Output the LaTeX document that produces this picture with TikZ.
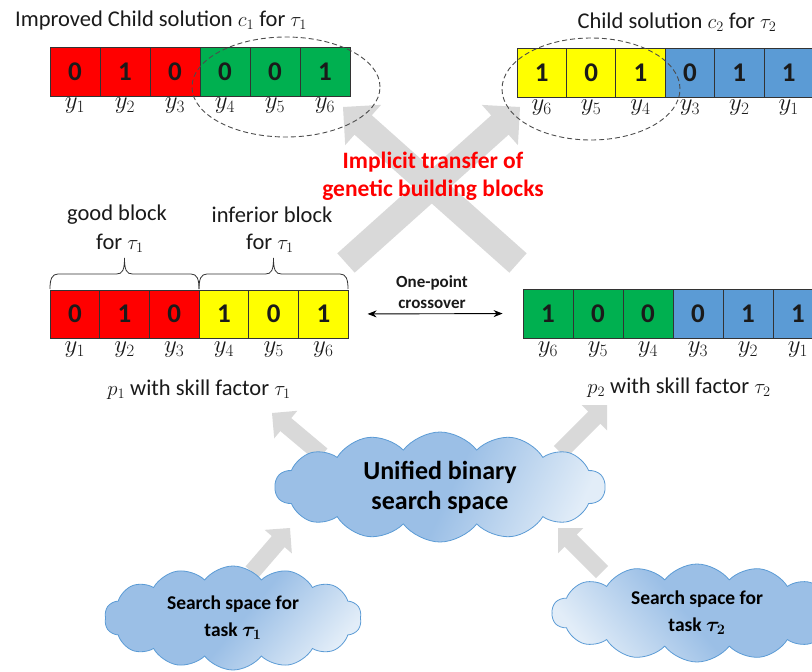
\documentclass[tikz,border=0pt]{standalone}
\usepackage{amsmath}
\usepackage{fontspec}
\setmainfont{Carlito}
\usetikzlibrary{calc,shapes.geometric,shapes.symbols,arrows.meta}

\definecolor{cRed}{HTML}{FF0000}
\definecolor{cGreen}{HTML}{00B050}
\definecolor{cYellow}{HTML}{FFFF00}
\definecolor{cBlue}{HTML}{5B9BD5}
\definecolor{arrowGray}{HTML}{D9D9D9}
\definecolor{cloudDark}{HTML}{9BBFE6}
\definecolor{cloudLight}{HTML}{E2EDF8}
\definecolor{cloudLine}{HTML}{5B9BD5}
\definecolor{txt}{HTML}{1A1A1A}

% cloud fill: even blue fading to a pale edge at one end
\pgfdeclarehorizontalshading{cloudfade}{100bp}{%
  color(0bp)=(cloudDark); color(25bp)=(cloudDark); color(52bp)=(cloudDark);
  color(76bp)=(cloudLight); color(100bp)=(cloudLight)}

% wide gray block arrow: from, to, half shaft, half head width, head length
\newcommand{\grayblockarrow}[5]{%
  \coordinate (gbH) at ($(#2)!#5!(#1)$);
  \fill[arrowGray]
    ($(#1)!#3!90:(#2)$) --
    ($(gbH)!#3!90:(#2)$) --
    ($(gbH)!#4!90:(#2)$) --
    (#2) --
    ($(gbH)!#4!-90:(#2)$) --
    ($(gbH)!#3!-90:(#2)$) --
    ($(#1)!#3!-90:(#2)$) -- cycle;
}
% curly brace opening downwards over the span x1..x2
\newcommand{\topbrace}[2]{%
  \draw[bracepen]
    (#1,289) .. controls (#1,279) and ({#1+2},274) .. ({#1+8},274)
    -- ({(#1+#2)/2-8},274)
    .. controls ({(#1+#2)/2-2},274) and ({(#1+#2)/2},270) .. ({(#1+#2)/2},258)
    .. controls ({(#1+#2)/2},270) and ({(#1+#2)/2+2},274) .. ({(#1+#2)/2+8},274)
    -- ({#2-8},274)
    .. controls ({#2-2},274) and (#2,279) .. (#2,289);
}

\begin{document}
\begin{tikzpicture}[x=1pt,y=-1pt,
  every node/.style={text=txt},
  cell/.style={draw=black!80, line width=0.8pt, rectangle, inner sep=0pt,
    minimum height=49pt, font=\fontsize{27}{30}\selectfont\bfseries},
  ylab/.style={font=\fontsize{24}{26}\selectfont, inner sep=0pt},
  lbl/.style={font=\fontsize{22.5}{26}\selectfont, inner sep=0pt, align=center},
  bracepen/.style={draw=black!80, line width=0.8pt},
  oval/.style={draw=black!70, dash pattern=on 5pt off 3pt, line width=0.9pt,
    ellipse, inner sep=0pt},
  cloudbox/.style={cloud, cloud puffs=14, cloud puff arc=105, cloud ignores aspect,
    draw=cloudLine, line width=0.8pt, align=center, inner sep=0pt, text=black,
    shade, shading=cloudfade},
  redtext/.style={font=\fontsize{23.5}{28}\selectfont\bfseries, text=cRed, align=center},
]
\useasboundingbox (0,0) rectangle (812,672);
\clip (0,0) rectangle (812,672);

% ---- anchors of the gray block arrows
\coordinate (xA0) at (518,263); \coordinate (xA1) at (343,107);
\coordinate (xB0) at (346,263); \coordinate (xB1) at (520,107);
\coordinate (u1a) at (322,455); \coordinate (u1b) at (272,413);
\coordinate (u2a) at (560,452); \coordinate (u2b) at (607,405);
\coordinate (s1a) at (252,572); \coordinate (s1b) at (290,528);
\coordinate (s2a) at (602,572); \coordinate (s2b) at (558,528);

\grayblockarrow{xA0}{xA1}{13pt}{27pt}{27pt}
\grayblockarrow{xB0}{xB1}{13pt}{27pt}{27pt}
\grayblockarrow{u1a}{u1b}{8.5pt}{18pt}{18pt}
\grayblockarrow{u2a}{u2b}{8.5pt}{18pt}{18pt}
\grayblockarrow{s1a}{s1b}{8.5pt}{18pt}{18pt}
\grayblockarrow{s2a}{s2b}{8.5pt}{18pt}{18pt}

% ---- child c1 (top left)
\node[lbl] (t1) at (161,20) {Improved Child solution $c_1$ for $\tau_1$};
\foreach \v/\c [count=\i] in {0/cRed,1/cRed,0/cRed,0/cGreen,0/cGreen,1/cGreen}{
  \node[cell, minimum width=50pt, fill=\c] (ca\i) at ({25+50*\i},71.5) {\v};
  \node[ylab] (ya\i) at ({25+50*\i},106) {$y_{\i}$};
}
\node[oval, minimum width=188pt, minimum height=100pt] (e1) at (286,87) {};

% ---- child c2 (top right)
\node[lbl] (t2) at (677,22) {Child solution $c_2$ for $\tau_2$};
\foreach \v/\c/\k [count=\i] in {1/cYellow/6,0/cYellow/5,1/cYellow/4,0/cBlue/3,1/cBlue/2,1/cBlue/1}{
  \node[cell, minimum width=49.4pt, fill=\c] (cb\i) at ({492.3+49.4*\i},72.5) {\v};
  \node[ylab] (yb\i) at ({492.3+49.4*\i},108) {$y_{\k}$};
}
\node[oval, minimum width=178pt, minimum height=102pt] (e2) at (591,89) {};

% ---- implicit transfer label
\node[redtext] (impl) at (433,176) {Implicit transfer of\\genetic building blocks};

% ---- parent p1 (middle left)
\node[lbl] (g1) at (117,215) {good block};
\node[lbl] (g2) at (120,243) {for $\tau_1$};
\node[lbl] (i1) at (272,215) {inferior block};
\node[lbl] (i2) at (270,243) {for $\tau_1$};
\topbrace{50}{199}
\topbrace{199}{348}
\foreach \v/\c [count=\i] in {0/cRed,1/cRed,0/cRed,1/cYellow,0/cYellow,1/cYellow}{
  \node[cell, minimum width=49.7pt, minimum height=48pt, fill=\c] (pa\i) at ({25.15+49.7*\i},314) {\v};
  \node[ylab] (za\i) at ({25.15+49.7*\i},350) {$y_{\i}$};
}
\node[lbl] (p1) at (199,390) {$p_1$ with skill factor $\tau_1$};

% ---- parent p2 (middle right)
\foreach \v/\c/\k [count=\i] in {1/cGreen/6,0/cGreen/5,0/cGreen/4,0/cBlue/3,1/cBlue/2,1/cBlue/1}{
  \node[cell, minimum width=50pt, fill=\c] (pb\i) at ({498+50*\i},313.5) {\v};
  \node[ylab] (zb\i) at ({498+50*\i},350) {$y_{\k}$};
}
\node[lbl] (p2) at (679,388) {$p_2$ with skill factor $\tau_2$};

% ---- crossover
\node[font=\fontsize{17}{21}\selectfont\bfseries, align=center] (xo) at (432,292) {One-point\\crossover};
\draw[line width=0.9pt, {Stealth[length=9pt,width=7pt]}-{Stealth[length=9pt,width=7pt]},
  shorten <=19pt, shorten >=20pt] (pa6.east) -- (pb1.west);

% ---- search spaces
\node[cloudbox, minimum width=330pt, minimum height=110pt, shading angle=-25,
  font=\fontsize{26}{30}\selectfont\bfseries] (uni) at (440,487) {Unified binary\\search space};
\node[cloudbox, minimum width=257pt, minimum height=104pt, shading angle=-40,
  font=\fontsize{19.5}{27}\selectfont\bfseries] (sp1) at (233,618) {Search space for\\task $\boldsymbol{\tau_1}$};
\node[cloudbox, minimum width=290pt, minimum height=98pt, shading angle=220,
  font=\fontsize{19.5}{27}\selectfont\bfseries] (sp2) at (697,613) {Search space for\\task $\boldsymbol{\tau_2}$};
\end{tikzpicture}
\end{document}
